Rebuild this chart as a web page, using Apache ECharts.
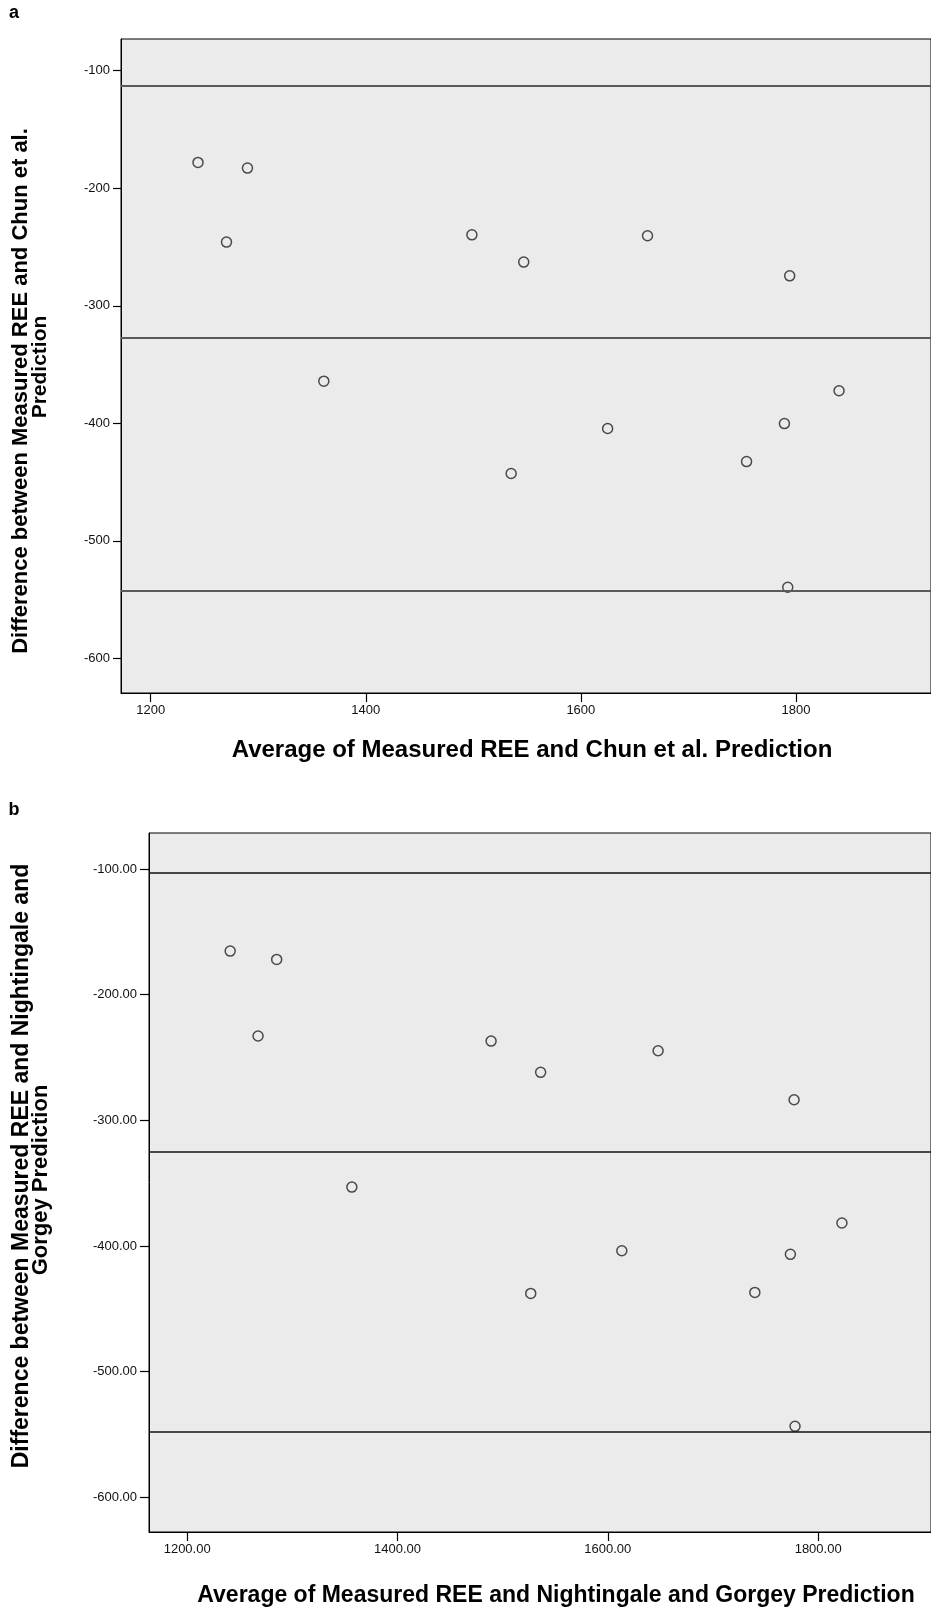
<!DOCTYPE html>
<html>
<head>
<meta charset="utf-8">
<script src="https://cdn.jsdelivr.net/npm/echarts@6/dist/echarts.min.js"></script>
<style>
  html, body { margin: 0; padding: 0; background: #fff; }
  #main { width: 931px; height: 1607px; }
</style>
</head>
<body>
<div id="main"></div>
<script>
// panel a: Chun et al.
var chunAvg = [1244, 1290, 1270.5, 1498.7, 1361, 1546.9, 1662, 1794.2, 1840.1, 1624.9, 1789.3, 1754.1, 1535.2, 1792.4];
var chunDiff = [-178, -182.8, -245.8, -239.6, -364.1, -262.8, -240.4, -274.5, -372.3, -404.4, -400.2, -432.5, -442.7, -539.4];
var chunLines = [-112.9, -327.5, -542];
var xTicksA = [1200, 1400, 1600, 1800];
var yTicksA = [-100, -200, -300, -400, -500, -600];

// panel b: Nightingale and Gorgey
var ngAvg = [1240.9, 1285.1, 1267.4, 1489, 1536.1, 1356.6, 1647.8, 1777.1, 1822.6, 1613.3, 1773.6, 1739.8, 1526.7, 1778];
var ngDiff = [-165.3, -171.9, -232.9, -236.9, -261.8, -353.1, -244.6, -283.6, -381.7, -403.8, -406.6, -436.9, -437.7, -543.5];
var ngLines = [-102.6, -325.0, -548.1];
var xTicksB = [1200, 1400, 1600, 1800];
var yTicksB = [-100, -200, -300, -400, -500, -600];

var font = 'Liberation Sans, Arial, sans-serif';

function pairs(xs, ys) {
  return xs.map(function (x, i) { return [x, ys[i]]; });
}

function axisOf(gridIndex, min, max, ticks, dec, tickLen, margin) {
  return {
    type: 'value', gridIndex: gridIndex, min: min, max: max,
    splitLine: { show: false },
    axisLine: { show: true, onZero: false, lineStyle: { color: '#000', width: 1 } },
    axisTick: { show: true, inside: false, length: tickLen, customValues: ticks, lineStyle: { color: '#000', width: 1.2 } },
    axisLabel: {
      show: true, margin: margin, customValues: ticks, color: '#111', fontSize: 13, fontFamily: font,
      formatter: function (v) { return v.toFixed(dec); }
    }
  };
}

function refLines(values, color, width) {
  return {
    silent: true, symbol: 'none', animation: false,
    label: { show: false },
    lineStyle: { color: color, width: width, type: 'solid' },
    data: values.map(function (v) { return { yAxis: v }; })
  };
}

function label(x, y, text, size, rotated) {
  return {
    type: 'text', x: x, y: y, rotation: rotated ? Math.PI / 2 : 0,
    style: { text: text, font: 'bold ' + size + 'px ' + font, fill: '#000', align: 'center', verticalAlign: 'middle' }
  };
}

var pointStyle = { color: 'rgba(0,0,0,0)', borderColor: '#222', borderWidth: 1.5 };

var chartDom = document.getElementById('main');
var myChart = echarts.init(chartDom);

var option = {
  animation: false,
  backgroundColor: '#fff',
  grid: [
    { left: 121, top: 39, width: 812, height: 654, show: true, backgroundColor: '#ebebeb', borderColor: '#000', borderWidth: 1 },
    { left: 149, top: 833, width: 784, height: 699, show: true, backgroundColor: '#ebebeb', borderColor: '#000', borderWidth: 1 }
  ],
  xAxis: [
    axisOf(0, 1172.4, 1925.6, xTicksA, 0, 9, 11),
    axisOf(1, 1163.7, 1907.3, xTicksB, 2, 9, 11)
  ],
  yAxis: [
    axisOf(0, -629.4, -73.0, yTicksA, 0, 8, 11),
    axisOf(1, -627.6, -71.3, yTicksB, 2, 9, 12)
  ],
  series: [
    {
      type: 'scatter', xAxisIndex: 0, yAxisIndex: 0,
      data: pairs(chunAvg, chunDiff),
      symbol: 'circle', symbolSize: 10, itemStyle: pointStyle,
      markLine: refLines(chunLines, '#5a5a5a', 2)
    },
    {
      type: 'scatter', xAxisIndex: 1, yAxisIndex: 1,
      data: pairs(ngAvg, ngDiff),
      symbol: 'circle', symbolSize: 10, itemStyle: pointStyle,
      markLine: refLines(ngLines, '#111', 1.5)
    }
  ],
  graphic: [
    label(14, 13, 'a', 18, false),
    label(14, 810, 'b', 18, false),
    label(532, 750, 'Average of Measured REE and Chun et al. Prediction', 24, false),
    label(556, 1596, 'Average of Measured REE and Nightingale and Gorgey Prediction', 23, false),
    label(21, 391, 'Difference between Measured REE and Chun et al.', 22, true),
    label(40, 367, 'Prediction', 21, true),
    label(22, 1166, 'Difference between Measured REE and Nightingale and', 23, true),
    label(41, 1180, 'Gorgey Prediction', 22, true)
  ]
};

myChart.setOption(option);
</script>
</body>
</html>
